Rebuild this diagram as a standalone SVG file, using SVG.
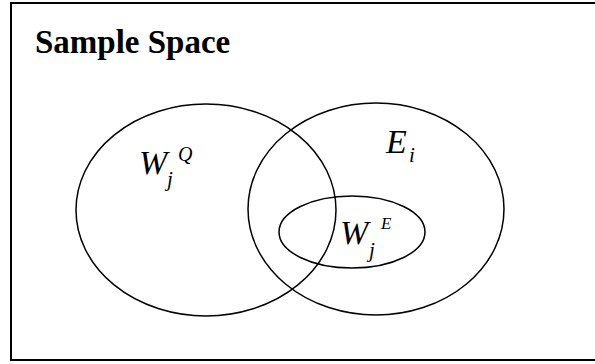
<svg xmlns="http://www.w3.org/2000/svg" width="595" height="364" viewBox="0 0 595 364">
<style>
.frame{fill:none;stroke:#000;stroke-width:2}
.set{fill:none;stroke:#000;stroke-width:1.5}
.t{font-family:'Liberation Serif','Times New Roman','DejaVu Serif',serif;fill:#000}
.it{font-style:italic}
</style>
<rect width="595" height="364" fill="#fff"/>
<g id="sample-space">
<rect class="frame" x="11" y="3" width="600" height="357"/>
<text class="t" x="35" y="53" font-size="33" font-weight="bold">Sample Space</text>
</g>
<g id="WQ">
<ellipse class="set" cx="206" cy="210" rx="130" ry="106"/>
<text class="t it" x="139" y="174" font-size="34">W</text>
<text class="t it" x="167" y="186" font-size="21">j</text>
<text class="t it" x="178" y="161" font-size="20">Q</text>
</g>
<g id="Ei">
<ellipse class="set" cx="376" cy="209" rx="128" ry="106"/>
<text class="t it" x="386" y="153" font-size="34">E</text>
<text class="t it" x="409" y="162" font-size="21">i</text>
</g>
<g id="WE">
<ellipse class="set" cx="352" cy="232" rx="73" ry="36"/>
<text class="t it" x="340" y="244" font-size="34">W</text>
<text class="t it" x="369" y="257" font-size="21">j</text>
<text class="t it" x="381" y="229" font-size="17">E</text>
</g>
</svg>
